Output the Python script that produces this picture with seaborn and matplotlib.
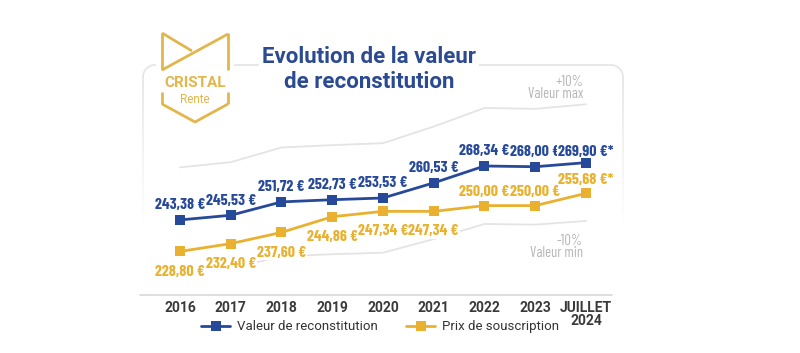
import numpy as np
import pandas as pd
import matplotlib
matplotlib.use("Agg")
import matplotlib.pyplot as plt
import seaborn as sns
from matplotlib import font_manager as fm
from matplotlib.lines import Line2D
from matplotlib.patches import Polygon
from matplotlib.collections import LineCollection

# ---------------- data ----------------
years = ["2016", "2017", "2018", "2019", "2020", "2021", "2022", "2023", "JUILLET\n2024"]
valeur = [243.38, 245.53, 251.72, 252.73, 253.53, 260.53, 268.34, 268.00, 269.90]
prix = [228.80, 232.40, 237.60, 244.86, 247.34, 247.34, 250.00, 250.00, 255.68]
valeur_labels = ["243,38\u2009€", "245,53\u2009€", "251,72\u2009€", "252,73\u2009€", "253,53\u2009€",
                 "260,53\u2009€", "268,34\u2009€", "268,00\u2009€", "269,90\u2009€*"]
prix_labels = ["228,80\u2009€", "232,40\u2009€", "237,60\u2009€", "244,86\u2009€", "247,34\u2009€",
               "247,34\u2009€", "250,00\u2009€", "250,00\u2009€", "255,68\u2009€*"]
band_max = [267.7, 270.1, 276.9, 278.0, 278.9, 286.6, 295.2, 294.8, 296.9]
band_min = [219.0, 221.0, 226.5, 227.5, 228.2, 234.5, 241.5, 241.2, 242.9]
band_captions = ["+10%\nValeur max", "-10%\nValeur min"]
series_names = ["Valeur de reconstitution", "Prix de souscription"]

BLUE = "#27499a"
YELLOW = "#e9b12f"
GOLD = "#e3b64c"
GRAY_TXT = "#b5b5b5"
BAND = "#e4e4e4"

sns.set_theme(style="white")


def pick(fams):
    for f in fams:
        try:
            fm.findfont(fm.FontProperties(family=f), fallback_to_default=False)
            return f
        except Exception:
            pass
    return "DejaVu Sans"


NARROW = pick(["Barlow Condensed", "Asap Condensed", "Archivo Narrow",
               "Roboto Condensed", "Liberation Sans Narrow", "Roboto"])
SANS = pick(["Roboto", "Inter", "DejaVu Sans"])
plt.rcParams["font.family"] = [SANS, "DejaVu Sans"]

fig = plt.figure(figsize=(8.0, 3.53), dpi=100)

# ---------------- background decoration (pixel coords) ----------------
bg = fig.add_axes([0, 0, 1, 1], zorder=0)
bg.set_xlim(0, 800)
bg.set_ylim(353, 0)
bg.axis("off")

# rounded frame (top + fading sides)
r = 12
L, R, T = 143, 623, 65
th = np.linspace(np.pi, 1.5 * np.pi, 20)
bg.plot(L + r + r * np.cos(th), T + r + r * np.sin(th), color="#e6e6e6", lw=1.3)
th2 = np.linspace(1.5 * np.pi, 2 * np.pi, 20)
bg.plot(R - r + r * np.cos(th2), T + r + r * np.sin(th2), color="#e6e6e6", lw=1.3)
bg.plot([L + r, R - r], [T, T], color="#e6e6e6", lw=1.3)
ys = np.linspace(T + r, 230, 40)
for xe in (L, R):
    segs = [[(xe, ys[i]), (xe, ys[i + 1])] for i in range(len(ys) - 1)]
    alphas = np.linspace(1, 0, len(segs))
    cols = [(0.9, 0.9, 0.9, a) for a in alphas]
    bg.add_collection(LineCollection(segs, colors=cols, lw=1.3))
bg.plot([140, 612], [295, 295], color="#d9d9d9", lw=1.2)

# logo
bg.add_patch(Polygon([(156, 30), (234, 30), (234, 108), (195, 127), (156, 108)],
                     closed=True, facecolor="white", edgecolor="none", zorder=3))
logo_lines = [
    [(162, 33), (162, 70)],
    [(228, 33), (228, 70)],
    [(162, 70), (228, 34)],
    [(162, 33), (192, 51)],
    [(162, 92), (162, 104)],
    [(228, 92), (228, 104)],
    [(162, 104), (195, 122), (228, 104)],
]
for pts in logo_lines:
    xs_, ys_ = zip(*pts)
    bg.plot(xs_, ys_, color=GOLD, lw=2.0, zorder=4, solid_capstyle="butt")
bg.text(195, 83, "CRISTAL", color=GOLD, fontsize=11, fontweight="bold",
        ha="center", va="center", zorder=5)
bg.text(195, 99.5, "Rente", color=GOLD, fontsize=8.5, ha="center", va="center", zorder=5)

# title
for txt, y in (("Evolution de la valeur", 57), ("de reconstitution", 82)):
    bg.text(369, y, txt, color="#2b4a92", fontsize=16, fontweight="bold",
            ha="center", va="center", zorder=5,
            bbox=dict(facecolor="white", edgecolor="none", pad=2))

# ---------------- main chart ----------------
ax = fig.add_axes([0.175, 0.1586, 0.6125, 0.6714], zorder=1)
ax.patch.set_alpha(0)
idx = list(range(len(years)))

band_df = pd.DataFrame({"x": idx * 2, "v": band_max + band_min,
                        "b": ["max"] * len(idx) + ["min"] * len(idx)})
sns.lineplot(data=band_df, x="x", y="v", hue="b", palette=[BAND, BAND],
             lw=1.3, legend=False, ax=ax, sort=False, zorder=1)

df = pd.DataFrame({"x": idx * 2, "v": valeur + prix,
                   "serie": [series_names[0]] * len(idx) + [series_names[1]] * len(idx)})
sns.lineplot(data=df, x="x", y="v", hue="serie", palette=[BLUE, YELLOW],
             marker="s", markersize=7.5, markeredgewidth=0, lw=2.0,
             legend=False, ax=ax, sort=False, zorder=4)

lab_kw = dict(textcoords="offset points", ha="center", va="center",
              fontsize=11.5, fontweight="bold", family=[NARROW, "DejaVu Sans"],
              zorder=3, bbox=dict(facecolor="white", edgecolor="none", pad=0.6))
for i in idx:
    off = 8.0 if i == 8 else 10.5
    ax.annotate(valeur_labels[i], (i, valeur[i]), xytext=(0, off), color=BLUE, **lab_kw)
    off2 = 9.5 if i >= 6 else -14.5
    ax.annotate(prix_labels[i], (i, prix[i]), xytext=(0, off2), color=YELLOW, **lab_kw)

ax.set_xlim(-0.788, 8.867)
ax.set_ylim(207.69, 317.4)
ax.set_xticks(idx)
ax.set_xticklabels(years, fontsize=10, fontweight="bold", color="#3a3a3a",
                   linespacing=0.9)
ax.tick_params(axis="x", length=0, pad=3)
ax.set_yticks([])
ax.set_xlabel("")
ax.set_ylabel("")
for s in ax.spines.values():
    s.set_visible(False)

# band captions
for txt, y in zip(band_captions, (88, 247)):
    bg.text(583, y, txt, color=GRAY_TXT, fontsize=10.5, fontweight="normal",
            ha="right", va="center", multialignment="right", linespacing=0.85,
            family=[NARROW, "DejaVu Sans"], zorder=5)

handles = [Line2D([], [], color=BLUE, lw=2, marker="s", markersize=7, markeredgewidth=0),
           Line2D([], [], color=YELLOW, lw=2, marker="s", markersize=7, markeredgewidth=0)]
fig.legend(handles, series_names, ncol=2, loc="center", bbox_to_anchor=(0.475, 0.074),
           frameon=False, fontsize=9.5, handlelength=2.2, columnspacing=2.2,
           handletextpad=0.5, labelcolor="#333333")

fig.savefig("out.png", dpi=100)
